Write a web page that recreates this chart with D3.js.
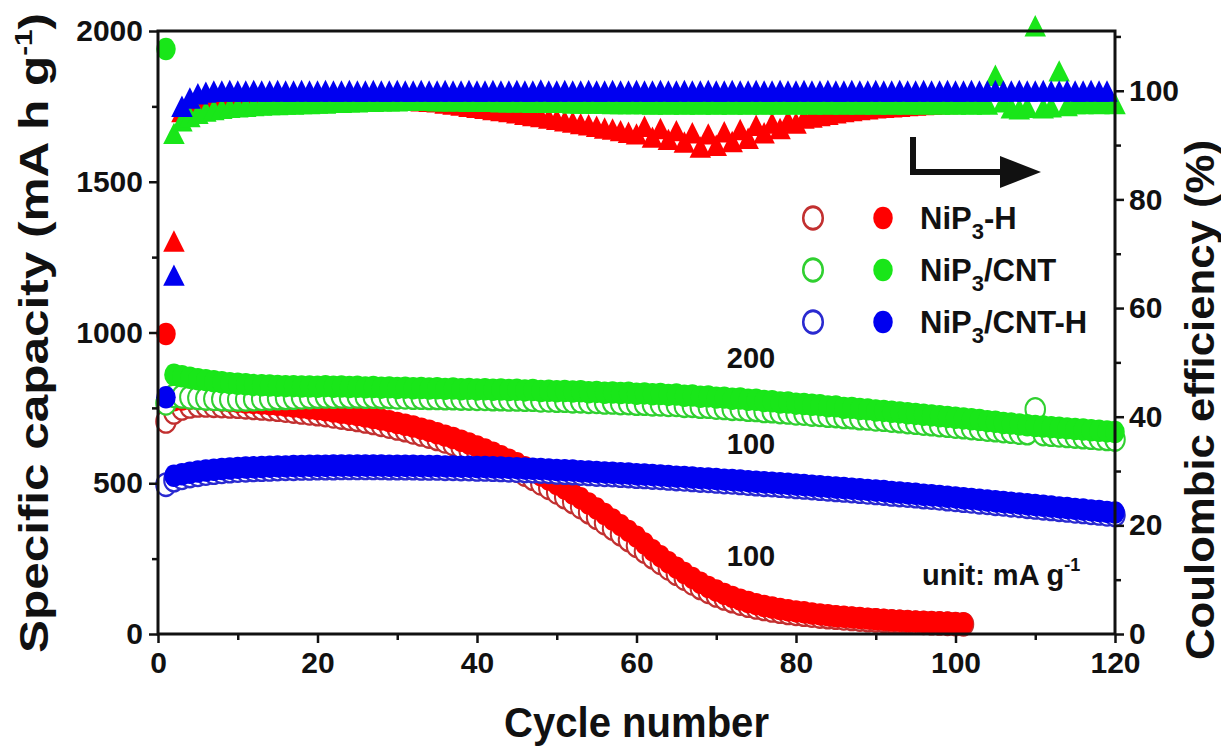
<!DOCTYPE html>
<html>
<head>
<meta charset="utf-8">
<script src="https://cdn.jsdelivr.net/npm/d3@7"></script>
<style>
  body { margin: 0; background: #fff; }
  text { font-family: "Liberation Sans", Arial, sans-serif; font-weight: bold; fill: #111; }
</style>
</head>
<body>
<svg id="chart" width="1221" height="751"></svg>
<script>
// capacity values per cycle (cycle 1 first), mA h g-1
var redDischarge = [995,
  775,778,780,780,778,776,774,772,770,
  768,766,764,762,760,757,754,751,748,745,
  742,738,734,730,726,721,716,711,706,700,
  694,688,681,674,666,658,650,641,632,622,
  612,601,590,578,566,553,540,526,512,497,
  482,466,450,433,416,398,380,361,342,323,
  300,278,258,238,220,202,186,170,156,144,
  133,123,114,106,99,93,88,83,79,75,
  72,68,65,62,59,57,55,53,51,49,
  47,45,44,42,41,40,39,38,37,36,35];
var redCharge = [705,
  735,748,755,758,758,757,756,755,754,
  752,750,748,746,744,741,738,735,732,729,
  726,722,718,714,710,705,700,694,688,682,
  676,669,662,655,647,639,630,621,611,601,
  590,579,567,555,542,529,515,500,485,470,
  454,438,421,404,386,368,350,331,312,293,
  274,255,236,218,200,184,168,153,140,128,
  118,109,101,94,88,83,78,74,70,67,
  64,61,58,56,54,52,50,48,46,45,
  43,42,40,39,38,37,36,35,34,33,32];
var greenDischarge = [1940,
  860,855,850,845,842,838,835,832,830,
  828,826,825,824,823,822,822,821,821,820,
  822,820,821,819,820,818,819,817,818,816,
  817,815,816,814,815,813,814,812,813,811,
  812,810,811,809,810,808,809,806,807,805,
  806,804,805,802,803,800,801,799,800,797,
  798,795,796,793,794,790,791,787,788,784,
  784,780,781,777,777,773,772,768,768,764,
  763,760,759,755,755,750,750,746,745,741,
  740,737,735,732,730,727,725,722,720,717,
  715,712,710,706,704,700,698,695,692,690,
  688,686,684,682,680,678,676,674,672,670];
var greenCharge = [765,
  790,788,785,783,781,780,779,778,778,
  778,779,780,781,782,783,784,785,786,787,
  788,787,788,787,788,787,787,786,786,785,
  785,784,784,783,783,782,782,781,781,780,
  780,779,779,778,778,777,777,775,775,774,
  774,772,772,770,770,768,768,766,766,764,
  764,762,762,760,760,757,757,754,754,751,
  750,747,747,744,743,740,739,736,735,732,
  731,728,727,724,723,720,719,716,715,712,
  711,708,706,703,701,698,696,693,691,688,
  686,683,681,678,676,673,671,668,666,745,
  663,661,659,657,655,653,651,649,647,645];
var blueDischarge = [785,
  525,530,535,539,542,545,547,549,551,
  552,553,554,555,556,556,557,557,558,558,
  558,559,559,559,559,559,559,559,558,558,
  558,558,557,557,557,556,556,555,555,554,
  554,553,552,551,550,549,548,547,546,544,
  543,542,540,539,537,536,535,533,532,530,
  529,527,526,524,522,521,519,517,516,514,
  512,511,509,507,505,503,502,500,498,496,
  494,492,490,488,486,484,482,480,478,476,
  474,471,469,467,465,462,460,458,455,453,
  450,448,445,443,440,438,435,433,430,428,
  425,423,420,418,415,413,410,408,405,403];
var blueCharge = [495,
  510,518,524,528,532,535,538,540,542,
  543,544,545,546,547,548,548,549,549,550,
  550,550,551,551,551,551,551,551,550,550,
  550,550,549,549,549,548,548,547,547,546,
  546,545,544,543,542,541,540,539,538,536,
  535,534,532,531,529,528,527,525,524,522,
  521,519,518,516,514,513,511,509,508,506,
  504,503,501,499,497,495,494,492,490,488,
  486,484,482,480,478,476,474,472,470,468,
  466,463,461,459,457,454,452,450,447,445,
  442,440,437,435,432,430,427,425,422,420,
  417,415,412,410,407,405,402,400,397,395];

// coulombic efficiency (%), starting at cycle 2
var redCE = [71.7,95.5,96.5,97.0,97.2,97.3,97.3,97.4,97.4,
  97.5,97.6,97.6,97.7,97.7,97.7,97.8,97.8,97.8,97.8,
  97.9,97.9,97.9,98.0,98.0,98.0,98.0,97.9,97.9,97.8,
  97.7,97.6,97.5,97.4,97.3,97.1,96.9,96.7,96.5,96.3,
  96.1,95.9,95.7,95.5,95.3,95.0,94.8,94.6,94.3,94.1,
  93.8,93.6,93.3,93.1,92.8,92.5,92.3,92.0,91.7,91.4,
  92.8,90.8,92.4,90.4,92.0,89.9,91.6,89.0,91.4,89.3,
  91.8,90.0,92.2,90.6,93.0,91.6,93.4,92.4,93.8,93.4,
  94.3,94.5,94.8,95.0,95.3,95.5,95.7,95.9,96.0,96.2,
  96.3,96.4,96.5,96.6,96.7,96.8,96.9,97.0,97.0,97.1,97.1];
var greenCE = [91.5,93.8,94.6,95.2,95.6,95.9,96.1,96.3,96.4,
  96.5,96.6,96.7,96.8,96.8,96.9,96.9,97.0,97.0,97.1,
  97.1,97.2,97.2,97.3,97.3,97.4,97.4,97.5,97.5,97.5,
  97.6,97.6,97.6,97.6,97.5,97.5,97.5,97.5,97.4,97.4,
  97.4,97.4,97.3,97.3,97.3,97.3,97.2,97.2,97.2,97.2,
  97.2,97.1,97.1,97.1,97.1,97.1,97.0,97.0,97.0,97.0,
  97.0,96.9,97.0,96.9,97.0,96.9,97.0,96.9,97.0,96.9,
  97.0,96.9,97.0,96.9,97.0,96.9,97.0,96.9,97.0,96.9,
  97.0,96.9,97.0,96.9,97.0,96.9,97.0,96.9,97.0,96.9,
  97.0,96.9,97.0,96.9,97.0,96.9,97.0,96.9,97.0,96.9,
  97.0,96.9,97.0,96.9,102.2,97.3,96.2,96.0,96.3,111.3,
  96.2,96.4,103.0,96.6,97.0,97.0,97.1,97.0,97.1,97.0];
var blueCE = [65.4,96.5,98.0,98.8,99.1,99.3,99.3,99.4,99.3,
  99.3,99.4,99.3,99.3,99.4,99.3,99.3,99.4,99.3,99.3,
  99.4,99.3,99.3,99.4,99.3,99.3,99.4,99.3,99.3,99.4,
  99.3,99.3,99.4,99.3,99.3,99.4,99.3,99.3,99.4,99.3,
  99.3,99.4,99.3,99.3,99.4,99.3,99.3,99.5,99.3,99.3,
  99.4,99.3,99.3,99.4,99.3,99.3,99.4,99.3,99.3,99.4,
  99.3,99.3,99.4,99.3,99.3,99.4,99.3,99.3,99.4,99.3,
  99.3,99.4,99.3,99.3,99.4,99.3,99.3,99.4,99.3,99.3,
  99.4,99.3,99.3,99.4,99.3,99.3,99.4,99.3,99.3,99.4,
  99.3,99.3,99.4,99.3,99.3,99.4,99.3,99.3,99.4,99.3,
  99.3,99.4,99.3,99.3,99.4,99.3,99.3,99.4,99.3,99.3,
  99.4,99.3,99.3,99.4,99.3,99.3,99.4,99.3,99.3];

var xTicks = [0,20,40,60,80,100,120];
var yTicks = [0,500,1000,1500,2000];
var ceTicks = [0,20,40,60,80,100];
var legendNames = ["NiP3-H", "NiP3/CNT", "NiP3/CNT-H"];
var rateLabels = ["200", "100", "100"];

var red = "#ff0000", green = "#19e619", blue = "#0000f0";
var redOpen = "#c23030", greenOpen = "#30d030", blueOpen = "#2a2ad0";

var plotL = 158, plotR = 1115, plotT = 31, plotB = 634;
var stretch = 1.15; // markers are a bit taller than wide in the original

var svg = d3.select("#chart");

var x = d3.scaleLinear().domain([0, 120]).range([plotL, plotR]);
var yL = d3.scaleLinear().domain([0, 2000]).range([plotB, plotT]);
var yR = d3.scaleLinear().domain([0, 111]).range([plotB, plotT]);

var circ = d3.symbol().type(d3.symbolCircle).size(300);
var tri = d3.symbol().type(d3.symbolTriangle).size(200);

function drawSeries(vals, start, yScale, sym, fill, stroke, sw) {
  svg.append("g")
    .selectAll("path")
    .data(vals).enter()
    .append("path")
    .attr("d", sym)
    .attr("transform", function(d, i) {
      return "translate(" + x(i + start) + "," + yScale(d) + ") scale(1," + stretch + ")";
    })
    .attr("fill", fill)
    .attr("stroke", stroke)
    .attr("stroke-width", sw);
}

// capacity (left axis)
drawSeries(redCharge, 1, yL, circ, "#fff", redOpen, 2);
drawSeries(redDischarge, 1, yL, circ, red, "none", 0);
drawSeries(greenCharge, 1, yL, circ, "#fff", greenOpen, 2);
drawSeries(greenDischarge, 1, yL, circ, green, "none", 0);
drawSeries(blueCharge, 1, yL, circ, "#fff", blueOpen, 2);
drawSeries(blueDischarge, 1, yL, circ, blue, "none", 0);

// coulombic efficiency (right axis)
drawSeries(redCE, 2, yR, tri, red, "none", 0);
drawSeries(greenCE, 2, yR, tri, green, "none", 0);
drawSeries(blueCE, 2, yR, tri, blue, "none", 0);

// axes
function styleAxis(g) {
  g.select(".domain").remove();
  g.selectAll("line").attr("stroke", "#111").attr("stroke-width", 2.5);
  g.selectAll("text").attr("font-size", 30).attr("fill", "#111");
}

svg.append("g")
  .attr("transform", "translate(0," + plotB + ")")
  .call(d3.axisBottom(x).tickValues(xTicks).tickSize(9).tickPadding(9))
  .call(styleAxis);
svg.append("g")
  .attr("transform", "translate(0," + plotB + ")")
  .call(d3.axisBottom(x).tickValues([10,30,50,70,90,110]).tickSize(6).tickFormat(""))
  .call(styleAxis);

svg.append("g")
  .attr("transform", "translate(" + plotL + ",0)")
  .call(d3.axisLeft(yL).tickValues(yTicks).tickSize(9).tickPadding(6).tickFormat(d3.format("d")))
  .call(styleAxis);
svg.append("g")
  .attr("transform", "translate(" + plotL + ",0)")
  .call(d3.axisLeft(yL).tickValues([250,750,1250,1750]).tickSize(6).tickFormat(""))
  .call(styleAxis);

svg.append("g")
  .attr("transform", "translate(" + plotR + ",0)")
  .call(d3.axisRight(yR).tickValues(ceTicks).tickSize(9).tickPadding(5))
  .call(styleAxis);
svg.append("g")
  .attr("transform", "translate(" + plotR + ",0)")
  .call(d3.axisRight(yR).tickValues([10,30,50,70,90,110]).tickSize(6).tickFormat(""))
  .call(styleAxis);

// frame
svg.append("rect")
  .attr("x", plotL).attr("y", plotT)
  .attr("width", plotR - plotL).attr("height", plotB - plotT)
  .attr("fill", "none").attr("stroke", "#111").attr("stroke-width", 3);

// axis titles
svg.append("text")
  .attr("x", x(60)).attr("y", 737)
  .attr("text-anchor", "middle")
  .attr("font-size", 42)
  .attr("textLength", 265).attr("lengthAdjust", "spacingAndGlyphs")
  .text("Cycle number");

var lt = svg.append("text")
  .attr("transform", "translate(48,333) rotate(-90)")
  .attr("text-anchor", "middle")
  .attr("font-size", 40)
  .attr("textLength", 640).attr("lengthAdjust", "spacingAndGlyphs");
lt.append("tspan").text("Specific capacity (mA h g");
lt.append("tspan").attr("font-size", 24).attr("dy", -16).text("-1");
lt.append("tspan").attr("dy", 16).text(")");

svg.append("text")
  .attr("transform", "translate(1214,400) rotate(-90)")
  .attr("text-anchor", "middle")
  .attr("font-size", 40)
  .attr("textLength", 520).attr("lengthAdjust", "spacingAndGlyphs")
  .text("Coulombic efficiency (%)");

// legend
var legY = [218, 270, 322];
var legFill = [red, green, blue];
var legOpen = [redOpen, greenOpen, blueOpen];
legendNames.forEach(function(name, i) {
  svg.append("path").attr("d", circ)
    .attr("transform", "translate(813," + legY[i] + ") scale(1," + stretch + ")")
    .attr("fill", "#fff").attr("stroke", legOpen[i]).attr("stroke-width", 2.5);
  svg.append("path").attr("d", circ)
    .attr("transform", "translate(883," + legY[i] + ") scale(1," + stretch + ")")
    .attr("fill", legFill[i]);
  var parts = name.split("3");
  var t = svg.append("text").attr("x", 920).attr("y", legY[i] + 11).attr("font-size", 31);
  t.append("tspan").text(parts[0]);
  t.append("tspan").attr("font-size", 22).attr("dy", 10).text("3");
  t.append("tspan").attr("dy", -10).text(parts[1]);
});

// current density labels
var rateY = [368, 454, 566];
rateLabels.forEach(function(r, i) {
  svg.append("text")
    .attr("x", 751).attr("y", rateY[i])
    .attr("text-anchor", "middle")
    .attr("font-size", 29)
    .text(r);
});

var ut = svg.append("text").attr("x", 922).attr("y", 585).attr("font-size", 29);
ut.append("tspan").text("unit: mA g");
ut.append("tspan").attr("font-size", 18).attr("dy", -14).text("-1");

// arrow pointing to the right axis
svg.append("path")
  .attr("d", "M913,137 L913,172 L1002,172")
  .attr("fill", "none").attr("stroke", "#111").attr("stroke-width", 6);
svg.append("path")
  .attr("d", "M1000,156 L1041,172 L1000,188 Z")
  .attr("fill", "#111");
</script>
</body>
</html>
